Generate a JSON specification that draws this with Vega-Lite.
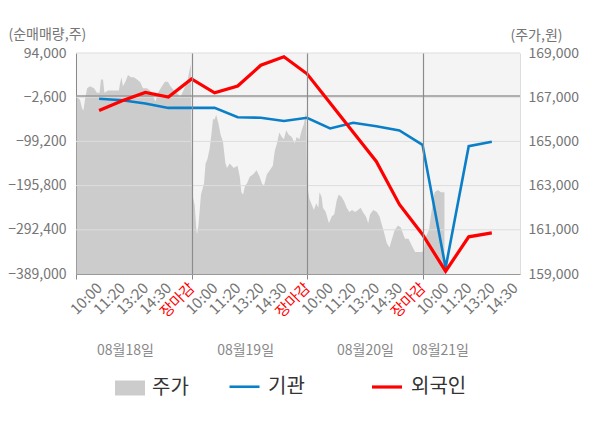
{
  "$schema": "https://vega.github.io/schema/vega-lite/v6.json",
  "description": "Investor net buying (institutions, foreigners) vs. share price, 18-21 Aug",
  "width": 444,
  "height": 221,
  "autosize": {"type": "none"},
  "padding": {"left": 76, "top": 53, "right": 80, "bottom": 154},
  "background": "white",
  "config": {
    "font": "Noto Sans CJK KR",
    "view": {"fill": "#f4f4f4", "stroke": null},
    "axis": {"labelFont": "Noto Sans CJK KR", "titleFont": "Noto Sans CJK KR", "labelColor": "#757575", "titleColor": "#757575", "titleFontWeight": "normal"},
    "legend": {"labelFont": "Noto Sans CJK KR", "labelFontSize": 20, "labelColor": "#333333", "labelOffset": 7}
  },
  "datasets": {
    "price": [
      {"t": 0.03, "p": 167000}, {"t": 0.17, "p": 166900}, {"t": 0.26, "p": 166500}, {"t": 0.32, "p": 166400},
      {"t": 0.39, "p": 166900}, {"t": 0.48, "p": 167400}, {"t": 0.61, "p": 167500}, {"t": 0.78, "p": 167400},
      {"t": 0.91, "p": 167200}, {"t": 1.02, "p": 167200}, {"t": 1.08, "p": 167800}, {"t": 1.17, "p": 167800},
      {"t": 1.23, "p": 167200}, {"t": 1.39, "p": 167300}, {"t": 1.56, "p": 167300}, {"t": 1.73, "p": 167300},
      {"t": 1.86, "p": 167300}, {"t": 1.9, "p": 167600}, {"t": 1.97, "p": 167900}, {"t": 2.03, "p": 167500},
      {"t": 2.14, "p": 167700}, {"t": 2.25, "p": 168000}, {"t": 2.38, "p": 167900}, {"t": 2.51, "p": 167900},
      {"t": 2.64, "p": 167800}, {"t": 2.77, "p": 167700}, {"t": 2.9, "p": 167400}, {"t": 3.07, "p": 167400},
      {"t": 3.2, "p": 167300}, {"t": 3.29, "p": 167200}, {"t": 3.35, "p": 167000}, {"t": 3.44, "p": 166800},
      {"t": 3.55, "p": 167200}, {"t": 3.72, "p": 167500}, {"t": 3.85, "p": 167700}, {"t": 3.98, "p": 167700},
      {"t": 4.09, "p": 167500}, {"t": 4.24, "p": 167300}, {"t": 4.37, "p": 167200}, {"t": 4.52, "p": 167000},
      {"t": 4.65, "p": 167300}, {"t": 4.81, "p": 167700}, {"t": 4.91, "p": 168200}, {"t": 4.97, "p": 168500},
      {"t": 5.0, "p": 164800}, {"t": 5.06, "p": 162500}, {"t": 5.14, "p": 162100}, {"t": 5.21, "p": 161000},
      {"t": 5.24, "p": 160800}, {"t": 5.3, "p": 161200}, {"t": 5.41, "p": 162600}, {"t": 5.54, "p": 163100},
      {"t": 5.61, "p": 164000}, {"t": 5.69, "p": 164200}, {"t": 5.79, "p": 164700}, {"t": 5.87, "p": 165400},
      {"t": 5.93, "p": 166000}, {"t": 6.0, "p": 166000}, {"t": 6.07, "p": 166200}, {"t": 6.17, "p": 165800},
      {"t": 6.26, "p": 165300}, {"t": 6.36, "p": 165000}, {"t": 6.47, "p": 164000}, {"t": 6.54, "p": 163800},
      {"t": 6.65, "p": 164000}, {"t": 6.83, "p": 163800}, {"t": 6.99, "p": 163900}, {"t": 7.09, "p": 163400},
      {"t": 7.16, "p": 162700}, {"t": 7.23, "p": 162600}, {"t": 7.32, "p": 163000}, {"t": 7.4, "p": 163100},
      {"t": 7.52, "p": 163400}, {"t": 7.66, "p": 163500}, {"t": 7.82, "p": 163700}, {"t": 7.95, "p": 163400},
      {"t": 8.05, "p": 163100}, {"t": 8.14, "p": 163000}, {"t": 8.26, "p": 163500}, {"t": 8.39, "p": 163700},
      {"t": 8.52, "p": 163900}, {"t": 8.61, "p": 164600}, {"t": 8.7, "p": 164900}, {"t": 8.8, "p": 165400},
      {"t": 8.91, "p": 165200}, {"t": 9.0, "p": 165100}, {"t": 9.1, "p": 165500}, {"t": 9.21, "p": 165300},
      {"t": 9.34, "p": 165200}, {"t": 9.47, "p": 164900}, {"t": 9.55, "p": 165200}, {"t": 9.67, "p": 165100},
      {"t": 9.77, "p": 165500}, {"t": 9.87, "p": 165800}, {"t": 9.96, "p": 166400},
      {"t": 10.0, "p": 163100}, {"t": 10.1, "p": 162400}, {"t": 10.22, "p": 162100}, {"t": 10.3, "p": 161900},
      {"t": 10.4, "p": 162200}, {"t": 10.49, "p": 162000}, {"t": 10.54, "p": 162700}, {"t": 10.63, "p": 162500},
      {"t": 10.69, "p": 162000}, {"t": 10.81, "p": 161800}, {"t": 10.95, "p": 161300}, {"t": 11.07, "p": 161600},
      {"t": 11.18, "p": 161700}, {"t": 11.28, "p": 162300}, {"t": 11.37, "p": 162600}, {"t": 11.49, "p": 162500},
      {"t": 11.6, "p": 162300}, {"t": 11.72, "p": 162000}, {"t": 11.83, "p": 161800}, {"t": 11.95, "p": 161900},
      {"t": 12.08, "p": 161800}, {"t": 12.21, "p": 161900}, {"t": 12.32, "p": 162000}, {"t": 12.42, "p": 161800},
      {"t": 12.55, "p": 161600}, {"t": 12.65, "p": 161300}, {"t": 12.73, "p": 161700}, {"t": 12.87, "p": 161900},
      {"t": 13.02, "p": 161800}, {"t": 13.14, "p": 161600}, {"t": 13.25, "p": 161200}, {"t": 13.33, "p": 160900},
      {"t": 13.45, "p": 160400}, {"t": 13.57, "p": 160200}, {"t": 13.68, "p": 160600}, {"t": 13.8, "p": 161000},
      {"t": 13.94, "p": 161200}, {"t": 14.06, "p": 161100}, {"t": 14.13, "p": 160900}, {"t": 14.24, "p": 160600},
      {"t": 14.39, "p": 160600}, {"t": 14.53, "p": 160300}, {"t": 14.68, "p": 160000}, {"t": 14.85, "p": 160000},
      {"t": 14.98, "p": 160000},
      {"t": 15.06, "p": 160100}, {"t": 15.15, "p": 160700}, {"t": 15.28, "p": 161000}, {"t": 15.37, "p": 161700},
      {"t": 15.52, "p": 162700}, {"t": 15.67, "p": 162800}, {"t": 15.8, "p": 162700}, {"t": 15.95, "p": 162700}
    ],
    "flow": [
      {"t": 1, "s": "기관", "v": -6100}, {"t": 2, "s": "기관", "v": -9200}, {"t": 3, "s": "기관", "v": -16400},
      {"t": 4, "s": "기관", "v": -26000}, {"t": 5, "s": "기관", "v": -26000}, {"t": 6, "s": "기관", "v": -26000},
      {"t": 7, "s": "기관", "v": -46300}, {"t": 8, "s": "기관", "v": -47600}, {"t": 9, "s": "기관", "v": -54600},
      {"t": 10, "s": "기관", "v": -47600}, {"t": 11, "s": "기관", "v": -71000}, {"t": 12, "s": "기관", "v": -58500},
      {"t": 13, "s": "기관", "v": -66000}, {"t": 14, "s": "기관", "v": -75400}, {"t": 15, "s": "기관", "v": -106800},
      {"t": 16, "s": "기관", "v": -375400}, {"t": 17, "s": "기관", "v": -109700}, {"t": 18, "s": "기관", "v": -100100},
      {"t": 1, "s": "외국인", "v": -31700}, {"t": 2, "s": "외국인", "v": -10500}, {"t": 3, "s": "외국인", "v": 7700},
      {"t": 4, "s": "외국인", "v": -2200}, {"t": 5, "s": "외국인", "v": 37200}, {"t": 6, "s": "외국인", "v": 7000},
      {"t": 7, "s": "외국인", "v": 22000}, {"t": 8, "s": "외국인", "v": 67300}, {"t": 9, "s": "외국인", "v": 85700},
      {"t": 10, "s": "외국인", "v": 48500}, {"t": 11, "s": "외국인", "v": -15300}, {"t": 12, "s": "외국인", "v": -79300},
      {"t": 13, "s": "외국인", "v": -143100}, {"t": 14, "s": "외국인", "v": -237100}, {"t": 15, "s": "외국인", "v": -302700},
      {"t": 16, "s": "외국인", "v": -382900}, {"t": 17, "s": "외국인", "v": -307700}, {"t": 18, "s": "외국인", "v": -299000}
    ],
    "days": [
      {"t": 2.12, "d": "08월18일"}, {"t": 7.32, "d": "08월19일"}, {"t": 12.51, "d": "08월20일"}, {"t": 15.76, "d": "08월21일"}
    ]
  },
  "layer": [
    {
      "layer": [
        {
          "data": {"name": "price"},
          "mark": {"type": "area"},
          "encoding": {
            "x": {
              "field": "t", "type": "quantitative",
              "scale": {"domain": [0, 19.22], "nice": false, "zero": false},
              "axis": {
                "title": null,
                "values": [0, 1, 2, 3, 4, 5, 6, 7, 8, 9, 10, 11, 12, 13, 14, 15, 16, 17, 18, 19],
                "labelExpr": "['','10:00','11:20','13:20','14:30','장마감','10:00','11:20','13:20','14:30','장마감','10:00','11:20','13:20','14:30','장마감','10:00','11:20','13:20','14:30'][datum.value]",
                "labelAngle": -45, "labelAlign": "right", "labelBaseline": "middle",
                "labelFontSize": 15, "labelPadding": 6, "labelOverlap": false, "labelBound": false, "labelFlush": false,
                "labelColor": {"condition": {"test": "datum.value % 5 === 0", "value": "#ff0000"}, "value": "#757575"},
                "domainColor": "#999999", "tickColor": "#888888", "tickSize": 5,
                "tickOpacity": {"condition": {"test": "datum.value % 5 === 0", "value": 1}, "value": 0},
                "grid": true, "gridColor": "#8c8c8c", "gridWidth": 1.2, "zindex": 1,
                "gridOpacity": {"condition": {"test": "datum.value % 5 === 0 && datum.value > 0", "value": 1}, "value": 0}
              }
            },
            "y": {
              "field": "p", "type": "quantitative",
              "scale": {"domain": [159000, 169000], "nice": false, "zero": false},
              "axis": {
                "orient": "right", "title": "(주가,원)",
                "values": [159000, 161000, 163000, 165000, 167000, 169000], "format": ",.0f",
                "labelFontSize": 14, "labelPadding": 8, "ticks": false, "grid": false,
                "domainColor": "#dddddd",
                "titleAngle": 0, "titleFontSize": 14, "titleAlign": "left", "titleBaseline": "middle",
                "titleX": -10, "titleY": -18
              }
            },
            "y2": {"datum": 159000},
            "fill": {
              "datum": "주가", "type": "nominal",
              "scale": {"domain": ["주가"], "range": ["#cccccc"]},
              "legend": {
                "title": null, "orient": "none", "legendX": 39, "legendY": 320,
                "symbolType": "M-1,-0.5H1V0.5H-1Z", "symbolSize": 900, "symbolStrokeWidth": 0
              }
            }
          }
        },
        {
          "layer": [
            {
              "data": {"values": [{"v": 94000}, {"v": -2600}, {"v": -99200}, {"v": -195800}, {"v": -292400}]},
              "mark": {"type": "rule", "color": "#dddddd", "strokeWidth": 1},
              "encoding": {
                "y": {
                  "field": "v", "type": "quantitative",
                  "scale": {"domain": [-389000, 94000], "nice": false, "zero": false},
                  "axis": {
                    "orient": "left", "title": "(순매매량,주)",
                    "values": [94000, -2600, -99200, -195800, -292400, -389000], "format": ",.0f",
                    "labelFontSize": 14, "labelPadding": 10, "ticks": false, "grid": false,
                    "domainColor": "#888888",
                    "titleAngle": 0, "titleFontSize": 14, "titleAlign": "left", "titleBaseline": "middle",
                    "titleX": -68, "titleY": -19
                  }
                }
              }
            },
            {
              "data": {"values": [{"v": 0}]},
              "mark": {"type": "rule", "color": "#999999", "strokeWidth": 1.5},
              "encoding": {"y": {"field": "v", "type": "quantitative", "title": "(순매매량,주)"}}
            },
            {
              "data": {"name": "flow"},
              "mark": {"type": "line"},
              "encoding": {
                "x": {
                  "field": "t", "type": "quantitative",
                  "axis": {
                    "title": null,
                    "values": [0, 1, 2, 3, 4, 5, 6, 7, 8, 9, 10, 11, 12, 13, 14, 15, 16, 17, 18, 19],
                    "labelExpr": "['','10:00','11:20','13:20','14:30','장마감','10:00','11:20','13:20','14:30','장마감','10:00','11:20','13:20','14:30','장마감','10:00','11:20','13:20','14:30'][datum.value]",
                    "labelAngle": -45, "labelAlign": "right", "labelBaseline": "middle",
                    "labelFontSize": 15, "labelPadding": 6, "labelOverlap": false, "labelBound": false, "labelFlush": false,
                    "labelColor": {"condition": {"test": "datum.value % 5 === 0", "value": "#ff0000"}, "value": "#757575"},
                    "domainColor": "#999999", "tickColor": "#888888", "tickSize": 5,
                    "tickOpacity": {"condition": {"test": "datum.value % 5 === 0", "value": 1}, "value": 0},
                    "grid": true, "gridColor": "#8c8c8c", "gridWidth": 1.2, "zindex": 1,
                    "gridOpacity": {"condition": {"test": "datum.value % 5 === 0 && datum.value > 0", "value": 1}, "value": 0}
                  }
                },
                "y": {"field": "v", "type": "quantitative", "title": "(순매매량,주)"},
                "color": {
                  "field": "s", "type": "nominal",
                  "scale": {"domain": ["기관", "외국인"], "range": ["#0a7fc8", "#ff0000"]},
                  "legend": {
                    "title": null, "orient": "none", "direction": "horizontal",
                    "legendX": 152, "legendY": 317,
                    "symbolType": "stroke", "symbolSize": 900, "symbolStrokeWidth": 3,
                    "columnPadding": 60
                  }
                },
                "strokeWidth": {
                  "field": "s", "type": "nominal",
                  "scale": {"domain": ["기관", "외국인"], "range": [2.6, 3.2]},
                  "legend": null
                },
                "order": {"field": "t", "type": "quantitative"}
              }
            }
          ]
        }
      ],
      "resolve": {"scale": {"y": "independent"}, "axis": {"y": "independent"}}
    },
    {
      "data": {"name": "days"},
      "mark": {"type": "rule", "opacity": 0},
      "encoding": {
        "x": {
          "field": "t", "type": "quantitative",
          "scale": {"domain": [0, 19.22], "nice": false, "zero": false},
          "axis": {
            "orient": "bottom", "offset": 76, "zindex": 0, "title": null,
            "values": [2.12, 7.32, 12.51, 15.76],
            "labelExpr": "datum.value < 4 ? '08월18일' : datum.value < 9 ? '08월19일' : datum.value < 14 ? '08월20일' : '08월21일'",
            "labelFontSize": 14, "labelColor": "#888888", "labelPadding": 0, "labelAngle": 0, "labelAlign": "center", "labelBaseline": "middle",
            "labelOverlap": false, "domain": false, "ticks": false, "grid": false
          }
        }
      }
    }
  ],
  "resolve": {"scale": {"x": "independent", "y": "independent"}}
}
